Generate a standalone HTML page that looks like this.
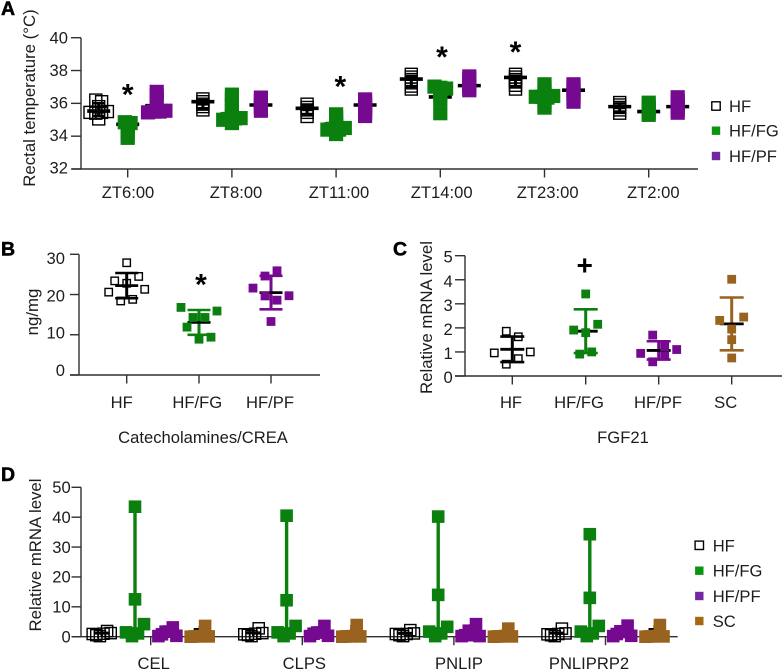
<!DOCTYPE html>
<html lang="en">
<head>
<meta charset="utf-8">
<title>Rectal temperature, catecholamines and mRNA levels</title>
<style>
html,body{margin:0;padding:0;background:#fff;width:782px;height:670px;overflow:hidden}
svg{display:block}
text{font-family:"Liberation Sans",Arial,sans-serif;fill:#1c1c1c;font-size:16.6px}
.letter{font-weight:bold;font-size:19.5px;fill:#000;stroke:#000;stroke-width:.5px}
.title{font-size:16.8px}
</style>
</head>
<body>
<svg id="figure" width="782" height="670" viewBox="0 0 782 670" xmlns="http://www.w3.org/2000/svg">
  <rect x="0" y="0" width="782" height="670" fill="#fff"/>
  <text class="letter" x="1" y="15">A</text>
  <text class="letter" x="1" y="255.5">B</text>
  <text class="letter" x="393" y="255.5">C</text>
  <text class="letter" x="1" y="481">D</text>
  <text class="title" transform="translate(35,98) rotate(-90)" text-anchor="middle">Rectal temperature (°C)</text>
  <text class="title" transform="translate(38,312) rotate(-90)" text-anchor="middle">ng/mg</text>
  <text class="title" transform="translate(432,317.5) rotate(-90)" text-anchor="middle">Relative mRNA level</text>
  <text class="title" transform="translate(41,555) rotate(-90)" text-anchor="middle">Relative mRNA level</text>
  <text x="203" y="443" text-anchor="middle">Catecholamines/CREA</text>
  <text x="623" y="443" text-anchor="middle">FGF21</text>
</svg>
<script>
/* ---------- Panel A data: rectal temperature (°C) ---------- */
const aCategories = ['ZT6:00', 'ZT8:00', 'ZT11:00', 'ZT14:00', 'ZT23:00', 'ZT2:00'];
const aSeriesNames = ['HF', 'HF/FG', 'HF/PF'];
const aTicks = [32, 34, 36, 38, 40];
const aHF = [
  [36.2, 36.1, 35.8, 35.45, 35.5, 35.4, 35.45, 35.05],
  [36.27, 36.1, 35.95, 35.8, 35.6],
  [35.95, 35.75, 35.6, 35.45, 35.2],
  [37.77, 37.6, 37.45, 37.25, 37.05, 36.87],
  [37.77, 37.6, 37.45, 37.3, 37.1, 36.87],
  [36.05, 35.9, 35.75, 35.6, 35.4]
];
const aFG = [
  [34.85, 34.8, 34.6, 34.3, 34.05, 33.9],
  [36.53, 36.25, 35.9, 35.55, 35.3, 35.0, 35.1, 35.05, 35.08, 34.8],
  [35.33, 35.15, 34.9, 34.7, 34.4, 34.5, 34.45, 34.4, 34.13],
  [37.02, 36.9, 36.95, 36.7, 36.5, 36.25, 35.4],
  [37.16, 36.95, 36.7, 36.4, 36.45, 36.4, 36.35, 36.1, 35.9, 35.74],
  [36.04, 35.85, 35.65, 35.45, 35.3]
];
const aPF = [
  [36.7, 36.45, 36.2, 35.45, 35.55, 35.5, 35.5],
  [36.35, 36.15, 35.95, 35.75, 35.55],
  [36.24, 36.05, 35.85, 35.65, 35.45, 35.23],
  [37.64, 37.45, 37.3, 37.15, 36.95, 36.8],
  [37.16, 37.0, 36.8, 36.6, 36.35, 36.1],
  [36.37, 36.15, 35.95, 35.75, 35.6, 35.43]
];
const aHFMeans = [35.53, 36.1, 35.7, 37.48, 37.58, 35.8];
const aFGMeans = [34.72, 35.35, 34.75, 36.39, 36.5, 35.5];
const aPFMeans = [35.86, 35.9, 35.9, 37.08, 36.8, 35.8];
const aStarCategories = [0, 2, 3, 4];
const aStarValues = [36.8, 37.3, 39.1, 39.4];

/* ---------- Panel B data: ng/mg ---------- */
const bCategories = ['HF', 'HF/FG', 'HF/PF'];
const bTicks = [0, 10, 20, 30];
const bHF = [27.9, 23.4, 24.5, 22.8, 20.6, 21.3, 18.4, 18.8];
const bFG = [16.8, 15.9, 14.3, 14.3, 11.9, 9.4, 8.9];
const bPF = [24.6, 25.9, 21.6, 19.7, 19.65, 18.6, 13.3];

/* ---------- Panel C data: FGF21 relative mRNA ---------- */
const cCategories = ['HF', 'HF/FG', 'HF/PF', 'SC'];
const cTicks = [0, 1, 2, 3, 4, 5];
const cHF = [1.86, 1.63, 0.96, 1.0, 0.49, 0.72];
const cFG = [3.41, 1.91, 2.15, 1.8, 0.91, 1.0];
const cPF = [1.7, 1.22, 0.94, 1.1, 0.59, 0.83];
const cSC = [4.02, 2.31, 2.45, 1.95, 1.51, 0.75];

/* ---------- Panel D data: relative mRNA per gene ---------- */
const dCategories = ['CEL', 'CLPS', 'PNLIP', 'PNLIPRP2'];
const dSeriesNames = ['HF', 'HF/FG', 'HF/PF', 'SC'];
const dTicks = [0, 10, 20, 30, 40, 50];
const dHF = [
  [0.9, 1.2, 0.5, 1.9, 0.2, 1.0],
  [0.8, 1.2, 0.6, 2.8, 0.2, 1.0],
  [0.9, 1.1, 0.5, 2.2, 0.2, 0.9],
  [0.8, 1.1, 0.5, 2.7, 0.2, 0.9]
];
const dFG = [
  [43.5, 12.5, 1.45, 4.2, 0.2, 1.1],
  [40.5, 12.2, 1.45, 3.6, 0.2, 1.1],
  [40.2, 14, 1.7, 3.3, 0.2, 1.1],
  [34.3, 13, 1.7, 3.6, 0.2, 1.1]
];
const dPF = [
  [0.2, 0.3, 0.8, 3.1, 1.7, 1.7],
  [0.2, 0.3, 1.0, 3.6, 1.4, 1.4],
  [0.2, 0.2, 0.5, 4.2, 2.0, 0.5],
  [0.2, 0.3, 0.9, 3.7, 1.8, 1.6]
];
const dSC = [
  [0, 0.1, 0.1, 3.6, 0.1, 0.2],
  [0, 0.1, 0.1, 3.9, 0.1, 0.2],
  [0, 0.1, 0.1, 2.7, 0.1, 0.2],
  [0, 0.1, 0.1, 3.9, 0.1, 0.2]
];
const dHFMeans = [1.2, 1.3, 1.1, 1.2];
const dFGMeans = [12.5, 12.2, 14, 13];
const dPFMeans = [1, 1, 1, 1];
const dSCMeans = [2.4, 1, 1, 2.4];

/* ---------- layout (not data) ---------- */
const COLORS = {HF: '#000000', FG: '#0b800f', PF: '#75098f', SC: '#99621f'};
const AXIS = '#303030';
const svg = document.getElementById('figure');

function mk(tag, attrs, parent) {
  const el = document.createElementNS('http://www.w3.org/2000/svg', tag);
  for (const k in attrs) el.setAttribute(k, attrs[k]);
  (parent || svg).appendChild(el);
  return el;
}
function linear(d0, d1, r0, r1) {
  return v => r0 + (v - d0) * (r1 - r0) / (d1 - d0);
}
function mean(vals) { return vals.reduce((s, v) => s + v, 0) / vals.length; }
function sd(vals) {
  const m = mean(vals);
  return Math.sqrt(vals.reduce((s, v) => s + (v - m) * (v - m), 0) / (vals.length - 1));
}
/* Swarm layout: sort by value, chunk into horizontal bins, spread each bin symmetrically. */
function swarmOffsets(vals, y, binPx, step, maxSpread) {
  const order = vals.map((v, i) => i).sort((a, b) => vals[b] - vals[a] || a - b);
  const out = new Array(vals.length).fill(0);
  let bin = [];
  const flush = () => {
    const sorted = bin.slice().sort((a, b) => a - b);
    const n = sorted.length;
    const largest = (Math.floor(n / 2) - (n % 2 === 0 ? 0.5 : 0)) * step;
    const scale = largest > maxSpread ? maxSpread / largest : 1;
    sorted.forEach((idx, k) => {
      const mag = Math.floor(n / 2) - Math.floor(k / 2);
      const off = (n % 2 === 0 ? (mag - 0.5) * step : mag * step) * scale;
      out[idx] = (k % 2 === 0 ? -1 : 1) * off;
    });
    bin = [];
  };
  order.forEach(idx => {
    if (bin.length && Math.abs(y(vals[idx]) - y(vals[bin[0]])) >= binPx) flush();
    bin.push(idx);
  });
  if (bin.length) flush();
  return out;
}
function drawYAxis(group, x, ticks, y, tickLen, labelX, labelY) {
  const line = mk('line', {x1: x, x2: x, y1: y(ticks[ticks.length - 1]), y2: y(ticks[0]), stroke: AXIS, 'stroke-width': 1.4}, group);
  
  
  ticks.forEach(t => {
    const tk = mk('line', {x1: x - tickLen, x2: x, y1: y(t), y2: y(t), stroke: AXIS, 'stroke-width': 1.4}, group);
    
    
    const lb = mk('text', {x: labelX, y: labelY(t) + 6, 'text-anchor': 'end'}, group);
    
    
    lb.textContent = t;
  });
}
function drawXAxis(group, x0, x1, y0, tickXs) {
  const line = mk('line', {x1: x0, x2: x1, y1: y0, y2: y0, stroke: AXIS, 'stroke-width': 1.4}, group);
  
  
  tickXs.forEach(tx => {
    const tk = mk('line', {x1: tx, x2: tx, y1: y0, y2: y0 + 8.5, stroke: AXIS, 'stroke-width': 1.4}, group);
    
    
  });
}
function drawXLabels(group, labels, centers, baseline) {
  labels.forEach((t, i) => {
    const lb = mk('text', {x: centers[i], y: baseline, 'text-anchor': 'middle'}, group);
    
    
    lb.textContent = t;
  });
}
/* One column of points: whisker, mean bar, then markers on top. */
function drawColumn(group, cx, vals, y, o) {
  const col = o.color;
  const m = o.meanValue !== undefined ? o.meanValue : mean(vals);
  let top, bottom;
  if (o.range) { top = Math.max(...vals); bottom = Math.min(...vals); }
  else { const s = sd(vals); top = mean(vals) + s; bottom = mean(vals) - s; }
  const v = mk('line', {x1: cx, x2: cx, y1: y(top), y2: y(bottom), stroke: col, 'stroke-width': o.whisker}, group);
  
  
  if (o.capW) {
    [top, bottom].forEach(c => {
      const cap = mk('line', {x1: cx - o.capW / 2, x2: cx + o.capW / 2, y1: y(c), y2: y(c), stroke: col, 'stroke-width': o.capT}, group);
      
      
    });
  }
  const mb = mk('line', {x1: cx - o.meanW / 2, x2: cx + o.meanW / 2, y1: y(m), y2: y(m), stroke: '#000', 'stroke-width': o.meanT}, group);
  
  
  const offs = swarmOffsets(vals, y, o.binPx, o.step, o.maxSpread === undefined ? Infinity : o.maxSpread);
  vals.forEach((val, i) => {
    const px = cx + offs[i], py = y(val);
    const s = o.hollow ? o.size - 1.4 : o.size;
    const r = mk('rect', {x: px - s / 2, y: py - s / 2, width: s, height: s,
      fill: o.hollow ? 'none' : col, stroke: o.hollow ? '#000' : 'none', 'stroke-width': o.hollow ? 1.4 : 0}, group);
    
    
  });
}
function drawLegend(group, names, colors, markerX, textX, ys) {
  names.forEach((n, i) => {
    const hollow = n === 'HF';
    const r = mk('rect', {x: markerX - 4.2, y: ys[i] - 4.2, width: 8.4, height: 8.4,
      fill: hollow ? 'none' : colors[i], stroke: hollow ? '#000' : 'none', 'stroke-width': hollow ? 1.4 : 0}, group);
    
    
    const t = mk('text', {x: textX, y: ys[i] + 6}, group);
    
    
    t.textContent = n;
  });
}
function drawStar(group, x, yPx) {
  const t = mk('text', {x: x, y: yPx + 14.5, 'text-anchor': 'middle', style: 'font-size:30px;font-weight:bold;fill:#000'}, group);
  
  
  t.textContent = '*';
}

/* ---------- Panel A ---------- */
(function () {
  const g = mk('g', {});
  
  
  const y = linear(32, 40, 169, 37.7);
  const catX = i => 127.7 + i * 104.2;
  const lightColors = [COLORS.HF, '#0a9510', '#74279e'];
  drawYAxis(g, 81, aTicks, y, 10, 68, t => y(t) - (40 - t) * 0.16);
  drawXAxis(g, 72, 698, 169, aCategories.map((c, i) => catX(i)));
  drawXLabels(g, aCategories, [128, 236, 339, 441.7, 547.7, 653.3], 198);
  const sets = [aHF, aFG, aPF];
  const means = [aHFMeans, aFGMeans, aPFMeans];
  const cols = [COLORS.HF, COLORS.FG, COLORS.PF];
  aCategories.forEach((c, i) => {
    sets.forEach((set, s) => {
      drawColumn(g, catX(i) + (s - 1) * 29, set[i], y, {
        color: cols[s], hollow: s === 0, size: s === 0 ? 13.4 : 14.2, binPx: 2.4, step: 5.8, maxSpread: 8.7,
        whisker: 3, capW: 11, capT: 2.5, meanW: 23, meanT: 3.6, meanValue: means[s][i]
      });
    });
  });
  aStarCategories.forEach((c, i) => {
    const dx = [0, 4.3, 1.7, -29][i];
    drawStar(g, catX(c) + dx, y(aStarValues[i]));
  });
  drawLegend(g, aSeriesNames, lightColors, 716, 729, [106, 130.7, 156]);
})();

/* ---------- Panel B ---------- */
(function () {
  const g = mk('g', {});
  
  
  const y = linear(0, 30, 375, 254.3);
  const labelY = linear(0, 30, 370, 258);
  const xs = [126.7, 199, 271];
  drawYAxis(g, 79, bTicks, y, 9, 65, labelY);
  drawXAxis(g, 70, 320, 375, xs);
  drawXLabels(g, bCategories, [121.7, 197.3, 270], 408);
  [bHF, bFG, bPF].forEach((vals, s) => {
    drawColumn(g, xs[s], vals, y, {
      color: [COLORS.HF, COLORS.FG, COLORS.PF][s], hollow: s === 0, size: 8.8, binPx: 12.5, step: 12,
      whisker: 3, capW: 23, capT: 2.6, meanW: 23, meanT: 2.8
    });
  });
  drawStar(g, 201, 280);
})();

/* ---------- Panel C ---------- */
(function () {
  const g = mk('g', {});
  
  
  const y = linear(0, 5, 376, 255.7);
  const xs = [512.3, 585.7, 658.7, 731.7];
  drawYAxis(g, 465, cTicks, y, 10, 452.7, t => y(t) + 1);
  drawXAxis(g, 455, 782, 376, xs);
  drawXLabels(g, cCategories, [511, 579, 658, 725.7], 408);
  [cHF, cFG, cPF, cSC].forEach((vals, s) => {
    drawColumn(g, xs[s], vals, y, {
      color: [COLORS.HF, COLORS.FG, COLORS.PF, COLORS.SC][s], hollow: s === 0, size: 8.8, binPx: 12.5, step: 12,
      whisker: 3, capW: 24, capT: 2.6, meanW: 24, meanT: 2.8
    });
  });
  const plus = mk('text', {x: 584.7, y: 274.5, 'text-anchor': 'middle', style: 'font-size:28px;font-weight:bold;fill:#000'}, g);
  
  
  plus.textContent = '+';
})();

/* ---------- Panel D ---------- */
(function () {
  const g = mk('g', {});
  
  
  const y = linear(0, 50, 636.7, 487.3);
  const catX = i => 150.7 + i * 151.6;
  const groupDx = [-49, -15.7, 16.7, 49];
  drawYAxis(g, 81, dTicks, y, 9.5, 70.7, t => y(t) - 0.2);
  drawXAxis(g, 72, 677.7, 636.7, dCategories.map((c, i) => catX(i)));
  drawXLabels(g, dCategories, [153.7, 304.3, 459, 589], 669);
  const sets = [dHF, dFG, dPF, dSC];
  const means = [dHFMeans, dFGMeans, dPFMeans, dSCMeans];
  const cols = [COLORS.HF, COLORS.FG, COLORS.PF, COLORS.SC];
  dCategories.forEach((c, i) => {
    sets.forEach((set, s) => {
      drawColumn(g, catX(i) + groupDx[s], set[i], y, {
        color: cols[s], hollow: s === 0, size: 12.6, binPx: 14, step: 6, maxSpread: 9,
        whisker: s === 1 ? 3.4 : 2.5, range: true, meanW: s === 0 ? 16 : 12, meanT: 3, meanValue: means[s][i]
      });
    });
  });
  drawLegend(g, dSeriesNames, [COLORS.HF, '#0a9510', '#74279e', '#a5690f'], 699.3, 712.7, [545.3, 570.7, 596, 621]);
})();
</script>
</body>
</html>
